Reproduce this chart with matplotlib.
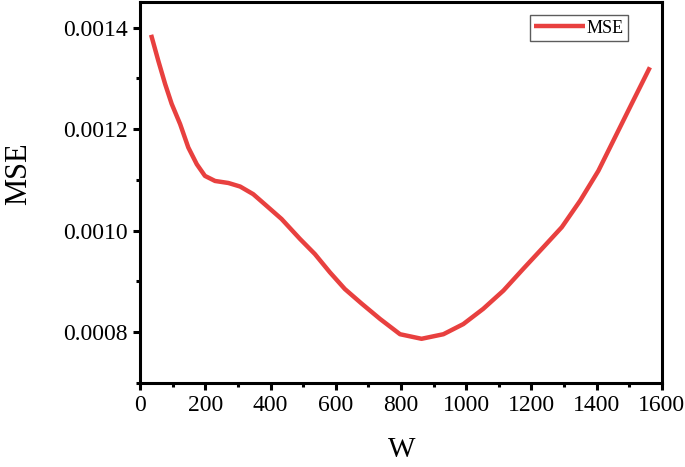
import matplotlib
matplotlib.use("Agg")
import matplotlib.pyplot as plt
from matplotlib.ticker import MultipleLocator, FuncFormatter

W = [34, 56, 77, 97, 123, 148, 174, 199, 230, 271, 307, 347, 388, 434, 490, 536, 582, 628, 680,
     736, 797, 863, 930, 991, 1052, 1114, 1175, 1240, 1293, 1349, 1405, 1456, 1507, 1563]
MSE = [0.001386, 0.001335, 0.001289, 0.001250, 0.001210, 0.001164, 0.001131, 0.001108, 0.001098,
       0.001094, 0.001087, 0.001072, 0.001049, 0.001023, 0.000984, 0.000954, 0.000918, 0.000885,
       0.000856, 0.000826, 0.000796, 0.000787, 0.000796, 0.000816, 0.000846, 0.000882, 0.000925,
       0.000970, 0.001007, 0.001059, 0.001118, 0.001184, 0.001250, 0.001322]

plt.rcParams['font.family'] = ['Liberation Serif', 'DejaVu Serif']

fig = plt.figure(figsize=(6.85, 4.67), dpi=100)
ax = fig.add_axes([0.2044, 0.18, 0.762, 0.815])
ax.plot(W, MSE, color='#E8403F', lw=3.2, label='MSE', solid_joinstyle='round', solid_capstyle='butt')

ax.set_xlim(0, 1600)
ax.set_ylim(0.0007, 0.00145)
ax.xaxis.set_major_locator(MultipleLocator(200))
ax.xaxis.set_minor_locator(MultipleLocator(100))
ax.yaxis.set_major_locator(MultipleLocator(0.0002))
ax.yaxis.set_minor_locator(MultipleLocator(0.0001))
ax.yaxis.set_major_formatter(FuncFormatter(lambda v, p: f"{v:.4f}"))

for s in ax.spines.values():
    s.set_linewidth(2.2)
ax.tick_params(which='major', direction='out', length=5, width=2.2, labelsize=17, pad=4)
ax.tick_params(which='minor', direction='out', length=3, width=2.2)
ax.tick_params(top=False, right=False, which='both')

ax.set_xlabel('W', fontsize=21)
ax.xaxis.set_label_coords(0.502, -0.142)
ax.set_ylabel('MSE', fontsize=22)
ax.yaxis.set_label_coords(-0.205, 0.55)

leg = ax.legend(loc='upper right', fontsize=13, frameon=True, fancybox=False, handlelength=2.8,
                handletextpad=0.1, borderpad=0.25, borderaxespad=0.0, bbox_to_anchor=(0.935, 0.966))
leg.get_frame().set_edgecolor('#333333')
leg.get_frame().set_linewidth(1.0)

fig.savefig('out.png', dpi=100)
